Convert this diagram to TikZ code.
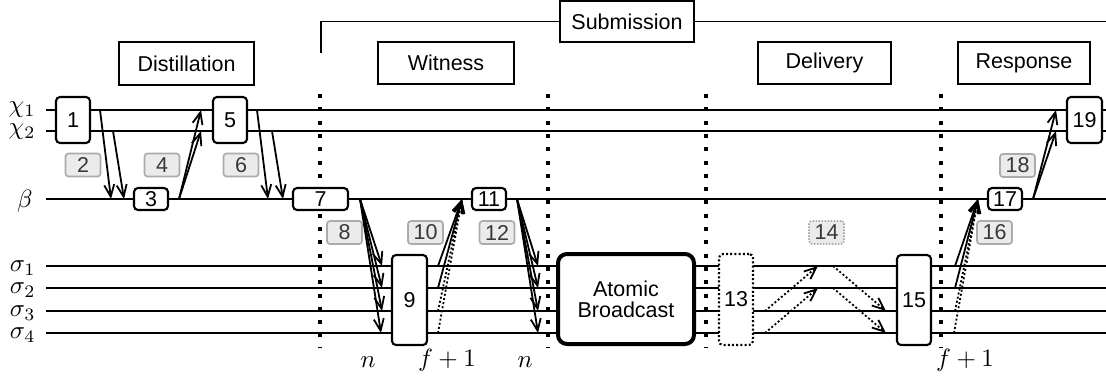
\documentclass[tikz,border=0pt]{standalone}
\usepackage{fontspec}
\setmainfont{Liberation Sans}
\usetikzlibrary{arrows.meta}
\begin{document}
\begin{tikzpicture}[x=1pt,y=-1pt,
  every node/.style={font=\fontsize{21.5}{24}\selectfont},
  lane/.style={line width=2.5pt},
  phase/.style={draw,line width=1.8pt,fill=white,inner sep=0pt},
  stepbox/.style={draw,line width=2.1pt,rounded corners=4pt,fill=white,inner sep=0pt},
  msglabel/.style={draw=black!33,fill=black!8,text=black!78,line width=1.7pt,rounded corners=3pt,inner sep=0pt,minimum width=35pt,minimum height=23pt},
  phasesep/.style={line width=4pt,dash pattern=on 4pt off 9.3pt},
  msg/.style={line width=1.8pt,-{Straight Barb[length=12pt,width=10pt,line width=1.8pt]}},
  dmsg/.style={msg,dash pattern=on 2pt off 2.2pt},
  mathlbl/.style={font=\normalsize,scale=2.5,inner sep=0pt},
]
\useasboundingbox (0,0) rectangle (1106,381);

% lanes
\foreach \y in {110,131,199,266,288,311,333}{
  \draw[lane] (46,\y) -- (1106,\y);
}
\node[mathlbl,anchor=east] (lc1) at (36,110) {$\chi_1$};
\node[mathlbl,anchor=east] (lc2) at (36,132) {$\chi_2$};
\node[mathlbl,anchor=east] (lb) at (33,201) {$\beta$};
\node[mathlbl,anchor=east] (ls1) at (36,268) {$\sigma_1$};
\node[mathlbl,anchor=east] (ls2) at (36,290) {$\sigma_2$};
\node[mathlbl,anchor=east] (ls3) at (36,313) {$\sigma_3$};
\node[mathlbl,anchor=east] (ls4) at (36,335) {$\sigma_4$};

% phase separators
\foreach \x in {320,548,706,941}{
  \draw[phasesep] (\x,94) -- (\x,348);
}

% phases
\node[phase,minimum width=135pt,minimum height=43pt] (dist) at (186.5,63.5) {Distillation};
\node[phase,minimum width=136pt,minimum height=42pt] (wit) at (446,63) {Witness};
\node[phase,minimum width=133pt,minimum height=42pt] (deli) at (824.5,63) {Delivery};
\node[phase,minimum width=132pt,minimum height=42pt] (resp) at (1024,63) {Response};
\node[phase,minimum width=134pt,minimum height=41pt] (sub) at (627,21.5) {Submission};
\coordinate (subL) at (321,53);
\coordinate (subR) at (1107,21.5);
\draw[line width=1.8pt] (subL) |- (sub.west);
\draw[line width=1.8pt] (sub.east) -- (subR);

% steps
\node[stepbox,minimum width=34pt,minimum height=46pt] (n1) at (73,120) {1};
\node[stepbox,minimum width=34pt,minimum height=22pt] (n3) at (151,199) {3};
\node[stepbox,minimum width=34pt,minimum height=46pt] (n5) at (230,120) {5};
\node[stepbox,minimum width=55pt,minimum height=22pt] (n7) at (320.5,199) {7};
\node[stepbox,minimum width=35pt,minimum height=90pt] (n9) at (409.5,300) {9};
\node[stepbox,minimum width=34pt,minimum height=22pt] (n11) at (489,199) {11};
\node[stepbox,line width=4pt,rounded corners=9pt,minimum width=136pt,minimum height=90pt,align=center] (ab) at (626,299) {Atomic\\[-3pt]Broadcast};
\node[stepbox,dash pattern=on 2pt off 2.2pt,minimum width=34pt,minimum height=91pt] (n13) at (736,299.5) {13};
\node[stepbox,minimum width=34pt,minimum height=90pt] (n15) at (914,300) {15};
\node[stepbox,minimum width=34pt,minimum height=22pt] (n17) at (1005,199) {17};
\node[stepbox,minimum width=35pt,minimum height=46pt] (n19) at (1084.5,120) {19};

% message labels
\node[msglabel] (m2) at (83,165) {2};
\node[msglabel] (m4) at (162,165) {4};
\node[msglabel] (m6) at (241,165) {6};
\node[msglabel] (m8) at (344.5,232.5) {8};
\node[msglabel] (m10) at (425.5,232.5) {10};
\node[msglabel] (m12) at (497,232.5) {12};
\node[msglabel,dash pattern=on 1.5pt off 1.5pt] (m14) at (826.5,232.5) {14};
\node[msglabel] (m16) at (994.5,232.5) {16};
\node[msglabel] (m18) at (1017.5,165.5) {18};

% quorum labels
\node[mathlbl] (q1) at (368,362) {$n$};
\node[mathlbl] (q2) at (447,360) {$f+1$};
\node[mathlbl] (q3) at (525,362) {$n$};
\node[mathlbl] (q4) at (965,360) {$f+1$};

% endpoints
\coordinate (a2s1) at (100,110); \coordinate (a2e1) at (111,199);
\coordinate (a2s2) at (113,131); \coordinate (a2e2) at (124,199);
\coordinate (a4s) at (179,199); \coordinate (a4e1) at (201,110); \coordinate (a4e2) at (201,131);
\coordinate (a6s1) at (257,110); \coordinate (a6e1) at (268,199);
\coordinate (a6s2) at (272,131); \coordinate (a6e2) at (283,199);
\coordinate (a8s) at (360,199);
\coordinate (a8e1) at (382,266); \coordinate (a8e2) at (382,288);
\coordinate (a8e3) at (382,311); \coordinate (a8e4) at (381,333);
\coordinate (a10e) at (462,199);
\coordinate (a10s1) at (438,266); \coordinate (a10s2) at (438,288);
\coordinate (a10s3) at (438,311); \coordinate (a10s4) at (438,333);
\coordinate (a12s) at (517,199);
\coordinate (a12e1) at (538,266); \coordinate (a12e2) at (538,288);
\coordinate (a12e3) at (538,311); \coordinate (a12e4) at (538,333);
\coordinate (a13s3) at (765,311); \coordinate (a13e1) at (818,266);
\coordinate (a13s4) at (765,333); \coordinate (a13e2) at (818,288);
\coordinate (a14s1) at (833,266); \coordinate (a14e3) at (886,311);
\coordinate (a14s2) at (833,288); \coordinate (a14e4) at (886,333);
\coordinate (a16e) at (978,199);
\coordinate (a16s1) at (955,266); \coordinate (a16s2) at (955,288);
\coordinate (a16s3) at (955,311); \coordinate (a16s4) at (954,333);
\coordinate (a18s) at (1033,199); \coordinate (a18e1) at (1056,110); \coordinate (a18e2) at (1056,131);

% messages
\draw[msg] (a2s1) -- (a2e1);
\draw[msg] (a2s2) -- (a2e2);
\draw[msg] (a4s) -- (a4e1);
\draw[msg] (a4s) -- (a4e2);
\draw[msg] (a6s1) -- (a6e1);
\draw[msg] (a6s2) -- (a6e2);
\foreach \i in {1,2,3,4}{ \draw[msg] (a8s) -- (a8e\i); }
\draw[msg] (a10s1) -- (a10e);
\draw[msg] (a10s2) -- (a10e);
\draw[dmsg] (a10s3) -- (a10e);
\draw[dmsg] (a10s4) -- (a10e);
\foreach \i in {1,2,3,4}{ \draw[msg] (a12s) -- (a12e\i); }
\draw[dmsg] (a13s3) -- (a13e1);
\draw[dmsg] (a13s4) -- (a13e2);
\draw[dmsg] (a14s1) -- (a14e3);
\draw[dmsg] (a14s2) -- (a14e4);
\draw[msg] (a16s1) -- (a16e);
\draw[msg] (a16s2) -- (a16e);
\draw[dmsg] (a16s3) -- (a16e);
\draw[dmsg] (a16s4) -- (a16e);
\draw[msg] (a18s) -- (a18e1);
\draw[msg] (a18s) -- (a18e2);
\end{tikzpicture}
\end{document}
